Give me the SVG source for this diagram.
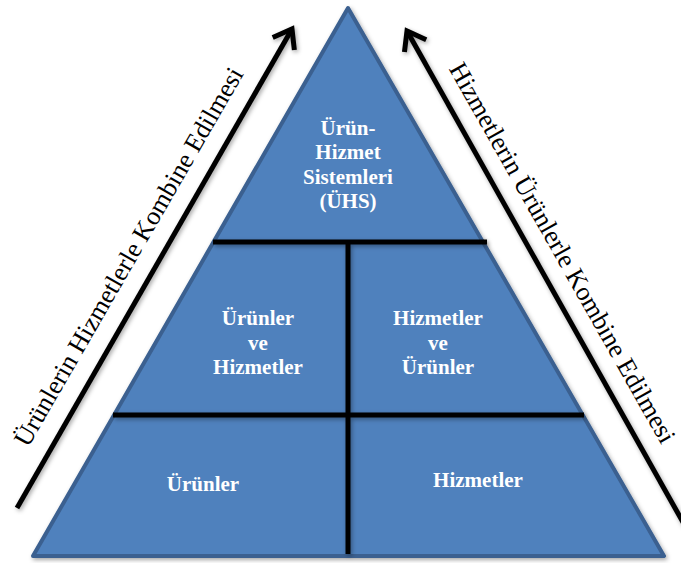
<svg xmlns="http://www.w3.org/2000/svg" width="681" height="563" viewBox="0 0 681 563">
  <defs>
    <filter id="shadow" x="-10%" y="-10%" width="120%" height="120%">
      <feDropShadow dx="1.5" dy="2" stdDeviation="2" flood-color="#000" flood-opacity="0.35"/>
    </filter>
    <marker id="open-arrow" markerUnits="userSpaceOnUse" markerWidth="40" markerHeight="40" refX="0" refY="0" viewBox="-20 -20 40 40" orient="auto" overflow="visible">
      <path d="M -15 -11 L 0 0 L -15 11" fill="none" stroke="#000" stroke-width="5" stroke-linecap="square" stroke-linejoin="miter"/>
    </marker>
  </defs>
  <style>
    .tier { fill: #4F81BD; stroke: #3B6090; stroke-width: 4; stroke-linejoin: round; }
    .divider { stroke: #000; stroke-width: 5; fill: none; }
    .axis { stroke: #000; stroke-width: 5; fill: none; marker-end: url(#open-arrow); }
    .label { font-family: "Liberation Serif", "Times New Roman", serif; font-weight: bold; font-size: 21px; fill: #FFFFFF; text-anchor: middle; }
    .axis-label { font-family: "Liberation Serif", "Times New Roman", serif; font-size: 26px; fill: #000; text-anchor: middle; }
  </style>

  <rect width="681" height="563" fill="#FFFFFF"/>

  <!-- pyramid body -->
  <g id="pyramid">
    <polygon class="tier" points="348,8 664,556 33,556" filter="url(#shadow)"/>
  </g>

  <!-- tier dividers and side arrows -->
  <g id="connectors" filter="url(#shadow)">
    <line class="divider" x1="213" y1="242" x2="487" y2="242"/>
    <line class="divider" x1="113" y1="415" x2="584" y2="415"/>
    <line class="divider" x1="348" y1="242" x2="348" y2="554"/>
    <line class="axis" x1="17" y1="508" x2="292" y2="29"/>
    <line class="axis" x1="684" y1="524" x2="407" y2="31"/>
  </g>

  <g id="node-uhs">
    <text class="label" x="348" y="135">Ürün-</text>
    <text class="label" x="348" y="159">Hizmet</text>
    <text class="label" x="348" y="184">Sistemleri</text>
    <text class="label" x="348" y="208">(ÜHS)</text>
  </g>

  <g id="node-urunler-ve-hizmetler">
    <text class="label" x="258" y="325">Ürünler</text>
    <text class="label" x="258" y="350">ve</text>
    <text class="label" x="258" y="374">Hizmetler</text>
  </g>

  <g id="node-hizmetler-ve-urunler">
    <text class="label" x="438" y="325">Hizmetler</text>
    <text class="label" x="438" y="350">ve</text>
    <text class="label" x="438" y="374">Ürünler</text>
  </g>

  <g id="node-urunler">
    <text class="label" x="203" y="491">Ürünler</text>
  </g>

  <g id="node-hizmetler">
    <text class="label" x="478" y="487">Hizmetler</text>
  </g>

  <g id="axis-left">
    <text class="axis-label" transform="translate(136,261) rotate(-60)">Ürünlerin Hizmetlerle Kombine Edilmesi</text>
  </g>

  <g id="axis-right">
    <text class="axis-label" transform="translate(555,257) rotate(60.5)">Hizmetlerin Ürünlerle Kombine Edilmesi</text>
  </g>
</svg>
